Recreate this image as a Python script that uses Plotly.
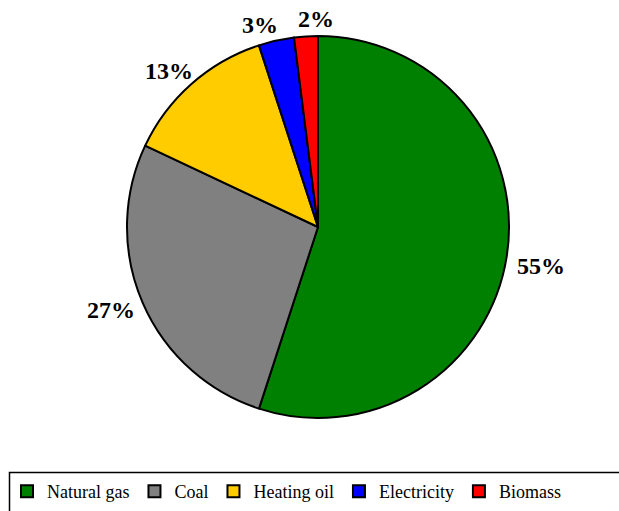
import math
import plotly.graph_objects as go

categories = ["Natural gas", "Coal", "Heating oil", "Electricity", "Biomass"]
shares = [55, 27, 13, 3, 2]
colors = ["#008000", "#808080", "#FFCC00", "#0000FF", "#FF0000"]

W, H = 619, 511
cx, cy, r = 318, 227, 191    # pie centre / radius in screen pixels
LABEL_SIZE = 24
FONT = "Liberation Serif, Times New Roman, serif"
# small layout nudges (pixels) mimicking the original's label placement
LABEL_NUDGE = {"Natural gas": (2, 6), "Coal": (-1, 0), "Heating oil": (-1, 1),
               "Electricity": (-10, 2), "Biomass": (12, 1)}


def px_x(x):
    return x / W


def px_y(y):
    return 1 - y / H


fig = go.Figure(go.Pie(
    labels=categories,
    values=shares,
    sort=False,
    direction="clockwise",
    rotation=0,
    marker=dict(colors=colors, line=dict(color="black", width=2)),
    textinfo="none",
    domain=dict(x=[px_x(cx - r), px_x(cx + r)], y=[px_y(cy + r), px_y(cy - r)]),
    hoverinfo="label+percent",
))

# percentage labels placed just outside each slice, from the data's angles
total = sum(shares)
cum = 0
for cat, v in zip(categories, shares):
    mid = (cum + v / 2) / total * 2 * math.pi
    cum += v
    ux, uy = math.sin(mid), -math.cos(mid)
    txt = f"{v}%"
    w = LABEL_SIZE * (0.5 * (len(txt) - 1) + 1.0)
    h = LABEL_SIZE * 0.75
    gap = 9
    nx, ny = LABEL_NUDGE.get(cat, (0, 0))
    lx = cx + (r + gap) * ux + ux * w / 2 + nx
    ly = cy + (r + gap) * uy + uy * h / 2 + ny
    fig.add_annotation(
        x=px_x(lx), y=px_y(ly), xref="paper", yref="paper",
        text=f"<b>{txt}</b>", showarrow=False,
        xanchor="center", yanchor="middle", borderpad=0,
        font=dict(family=FONT, size=LABEL_SIZE, color="black"),
    )

# legend frame (extends past the right / bottom edges like the original)
fig.add_shape(type="rect", xref="paper", yref="paper",
              x0=px_x(9.5), x1=1.05, y0=px_y(472.5), y1=-0.05,
              line=dict(color="black", width=1.5), fillcolor="rgba(0,0,0,0)")

fig.update_layout(
    width=W, height=H,
    margin=dict(l=0, r=0, t=0, b=0),
    paper_bgcolor="white",
    plot_bgcolor="white",
    font=dict(family=FONT, size=18, color="black"),
    showlegend=True,
    legend=dict(
        orientation="h",
        x=px_x(7), xanchor="left",
        y=px_y(473), yanchor="top",
        borderwidth=0, bgcolor="rgba(0,0,0,0)",
        font=dict(family=FONT, size=18, color="black"),
        itemwidth=30,
        tracegroupgap=0,
    ),
)

fig.write_html("out.html", config={"displayModeBar": False},
               post_script="document.body.style.margin='0';")
